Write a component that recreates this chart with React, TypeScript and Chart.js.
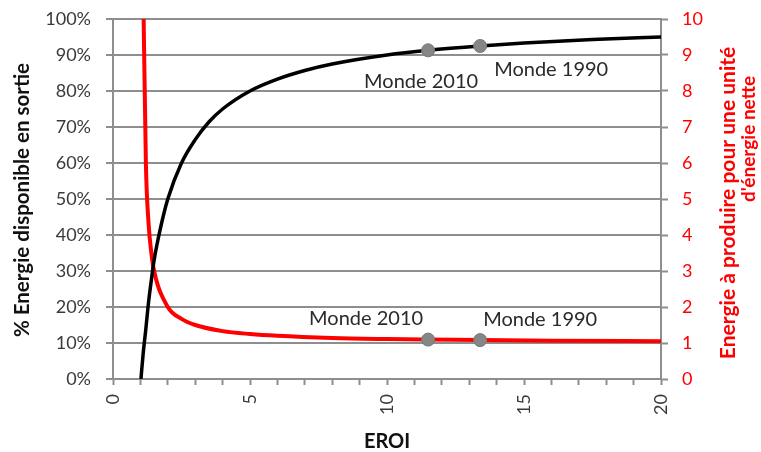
import { useEffect, useRef } from "react";
import { Chart, registerables } from "chart.js";

Chart.register(...registerables);

// EROI values (x) and % net energy available (left axis, black curve)
const eroiBlack = [1.02, 1.1, 1.2, 1.3, 1.4, 1.5, 1.75, 2, 2.5, 3, 3.5, 4, 5, 6, 7, 8, 10, 11.5, 13.4, 15, 17.5, 20];
const pctBlack = [0, 7, 14, 21.5, 27.5, 33, 42.5, 50, 60, 66.5, 71.4, 75, 80, 83.3, 85.7, 87.5, 90, 91.3, 92.5, 93.3, 94.3, 95];

// EROI values (x) and energy to produce per unit of net energy (right axis, red curve)
const eroiRed = [1.1, 1.2, 1.3, 1.4, 1.5, 2, 2.5, 3, 4, 5, 6, 8, 10, 11.5, 13.4, 16, 20];
const energieRed = [11, 6, 4.3, 3.5, 3, 2, 1.67, 1.5, 1.33, 1.25, 1.2, 1.14, 1.11, 1.095, 1.08, 1.065, 1.05];

// Marked points
const worldLabels = ["Monde 2010", "Monde 1990"];
const worldEroi = [11.5, 13.4];
const worldPct = [91.3, 92.5];
const worldEnergie = [1.095, 1.08];

const xTitle = "EROI";
const leftTitle = "% Energie disponible en sortie";
const rightTitle = ["Energie à produire pour une unité", "d'énergie nette"];

const FONT = "Lato";
const GRID = "#8e8e8e";
const RED = "#ff0000";

export default function App() {
  const ref = useRef<HTMLCanvasElement | null>(null);

  useEffect(() => {
    if (!ref.current) return;
    const blackLabelOffsets = [
      [-7, 31],
      [71, 24],
    ];
    const redLabelOffsets = [
      [-62, -21],
      [60, -21],
    ];

    const textPlugin = {
      id: "textPlugin",
      afterDraw(chart: any) {
        const ctx = chart.ctx as CanvasRenderingContext2D;
        const xs = chart.scales.x;
        const yl = chart.scales.y;
        const yr = chart.scales.y1;
        ctx.save();
        ctx.textAlign = "center";
        ctx.textBaseline = "middle";
        ctx.font = `20px ${FONT}`;
        ctx.fillStyle = "#2a2a2a";
        worldLabels.forEach((lab, i) => {
          const px = xs.getPixelForValue(worldEroi[i]);
          const py = yl.getPixelForValue(worldPct[i]);
          ctx.fillText(lab, px + blackLabelOffsets[i][0], py + blackLabelOffsets[i][1]);
          const ry = yr.getPixelForValue(worldEnergie[i]);
          ctx.fillText(lab, px + redLabelOffsets[i][0], ry + redLabelOffsets[i][1]);
        });
        // axis titles
        const ca = chart.chartArea;
        ctx.fillStyle = "#111111";
        ctx.font = `bold 20px ${FONT}`;
        ctx.fillText(xTitle, (ca.left + ca.right) / 2, 442);
        ctx.save();
        ctx.translate(22, 200);
        ctx.rotate(-Math.PI / 2);
        ctx.font = `bold 20.5px ${FONT}`;
        ctx.fillText(leftTitle, 0, 0);
        ctx.restore();
        ctx.fillStyle = RED;
        ctx.save();
        ctx.translate(728, 203);
        ctx.rotate(-Math.PI / 2);
        ctx.font = `bold 21px ${FONT}`;
        ctx.fillText(rightTitle[0], 0, 0);
        ctx.restore();
        ctx.save();
        ctx.translate(749, 139);
        ctx.rotate(-Math.PI / 2);
        ctx.font = `bold 19px ${FONT}`;
        ctx.fillText(rightTitle[1], 0, 0);
        ctx.restore();
        ctx.restore();
      },
    };

    const chart = new Chart(ref.current, {
      type: "line",
      data: {
        datasets: [
          {
            label: "points-black",
            data: worldEroi.map((x, i) => ({ x, y: worldPct[i] })),
            yAxisID: "y",
            showLine: false,
            pointRadius: 6.5,
            pointBackgroundColor: "#868686",
            pointBorderColor: "#767676",
            pointBorderWidth: 1,
            order: 0,
          },
          {
            label: "points-red",
            data: worldEroi.map((x, i) => ({ x, y: worldEnergie[i] })),
            yAxisID: "y1",
            showLine: false,
            pointRadius: 6.5,
            pointBackgroundColor: "#868686",
            pointBorderColor: "#767676",
            pointBorderWidth: 1,
            order: 0,
          },
          {
            label: "black",
            data: eroiBlack.map((x, i) => ({ x, y: pctBlack[i] })),
            yAxisID: "y",
            borderColor: "#000000",
            borderWidth: 3.5,
            pointRadius: 0,
            cubicInterpolationMode: "monotone",
            order: 1,
          },
          {
            label: "red",
            data: eroiRed.map((x, i) => ({ x, y: energieRed[i] })),
            yAxisID: "y1",
            borderColor: RED,
            borderWidth: 4,
            pointRadius: 0,
            cubicInterpolationMode: "monotone",
            order: 2,
          },
        ],
      },
      options: {
        animation: false,
        responsive: true,
        maintainAspectRatio: false,
        layout: { padding: { top: 19, left: 0, right: 0, bottom: 0 } },
        plugins: { legend: { display: false }, tooltip: { enabled: false } },
        scales: {
          x: {
            type: "linear",
            min: 0,
            max: 20,
            afterFit: (s: any) => {
              s.height = 73;
            },
            ticks: {
              stepSize: 1,
              autoSkip: false,
              minRotation: 90,
              maxRotation: 90,
              padding: 9,
              color: "#3a3a3a",
              font: { family: FONT, size: 18 },
              callback: (v: any) => (Number(v) % 5 === 0 ? String(v) : ""),
            },
            grid: {
              drawOnChartArea: false,
              drawTicks: true,
              tickLength: 6,
              tickColor: GRID,
              tickWidth: 2,
            },
            border: { color: GRID, width: 2 },
          },
          y: {
            position: "left",
            min: 0,
            max: 100,
            afterFit: (s: any) => {
              s.width = 113;
            },
            ticks: {
              stepSize: 10,
              padding: 15,
              color: "#3a3a3a",
              font: { family: FONT, size: 18, lineHeight: 0.3 },
              callback: (v: any) => v + "%",
            },
            grid: {
              color: GRID,
              lineWidth: 2,
              drawTicks: true,
              tickLength: 7,
              tickColor: GRID,
              tickWidth: 2,
            },
            border: { color: GRID, width: 2 },
          },
          y1: {
            position: "right",
            min: 0,
            max: 10,
            afterFit: (s: any) => {
              s.width = 100;
            },
            ticks: {
              stepSize: 1,
              padding: 14,
              color: RED,
              font: { family: FONT, size: 18, lineHeight: 0.3 },
            },
            grid: {
              drawOnChartArea: false,
              drawTicks: true,
              tickLength: 7,
              tickColor: GRID,
              tickWidth: 2,
            },
            border: { color: GRID, width: 2 },
          },
        },
      },
      plugins: [textPlugin],
    } as any);

    return () => chart.destroy();
  }, []);

  return (
    <div style={{ position: "absolute", left: 0, top: 0, width: 761, height: 452, background: "#ffffff" }}>
      <canvas ref={ref} />
    </div>
  );
}
